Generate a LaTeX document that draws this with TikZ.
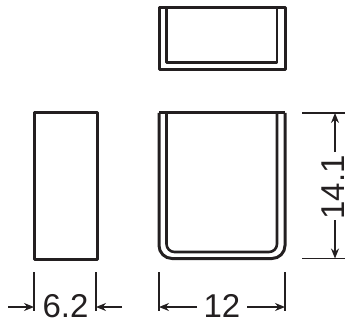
\documentclass[tikz,border=0pt]{standalone}
\usepackage{fontspec}
\setmainfont{Liberation Sans}
\usepackage{xcolor}
\usetikzlibrary{arrows.meta}
\definecolor{ink}{HTML}{231F20}
\begin{document}
\begin{tikzpicture}[x=1pt,y=-1pt,
    outline/.style={draw=ink,line width=3pt,line join=round},
    innerline/.style={draw=ink,line width=2.6pt,line join=round},
    dimline/.style={draw=ink,line width=1.4pt},
    dimarrow/.style={dimline,-{Stealth[length=10pt,width=8pt]}},
    dimtext/.style={text=ink,inner sep=0pt,font=\fontsize{33}{33}\selectfont}]
  \useasboundingbox (0,0) rectangle (345,326);
  % top view
  \draw[outline] (159,7.5) rectangle (285,70);
  \draw[innerline] (166.5,7.5) -- (166.5,62.5) -- (277,62.5) -- (277,7.5);
  % side view
  \draw[outline] (34,113) rectangle (97,259);
  % front view
  \draw[outline,rounded corners=13pt] (159,113) -- (159,258.5) -- (285,258.5) -- (285,113);
  \draw[outline] (159,113) -- (285,113);
  \draw[innerline,rounded corners=8pt] (166.5,113) -- (166.5,252) -- (277,252) -- (277,113);
  % dimensions
  \coordinate (wa) at (34,272);
  \coordinate (wb) at (34,311);
  \coordinate (wc) at (96,272);
  \coordinate (wd) at (96,311);
  \coordinate (we) at (8,307);
  \coordinate (wf) at (34,307);
  \coordinate (wg) at (122,307);
  \coordinate (wh) at (96,307);
  \coordinate (la) at (159,272);
  \coordinate (lb) at (159,311);
  \coordinate (lc) at (285,272);
  \coordinate (ld) at (285,311);
  \coordinate (le) at (197,307);
  \coordinate (lf) at (159,307);
  \coordinate (lg) at (247,307);
  \coordinate (lh) at (285,307);
  \coordinate (ha) at (302,113);
  \coordinate (hb) at (345,113);
  \coordinate (hc) at (302,258.5);
  \coordinate (hd) at (345,258.5);
  \coordinate (he) at (335,152);
  \coordinate (hf) at (335,113);
  \coordinate (hg) at (335,220);
  \coordinate (hh) at (335,258.5);
  \node[dimtext] (wtext) at (65.5,306) {6.2};
  \node[dimtext] (ltext) at (222,306) {12};
  \node[dimtext,rotate=90,anchor=base] (htext) at (344,187.5) {14.1};
  \draw[dimline] (wa) -- (wb);
  \draw[dimline] (wc) -- (wd);
  \draw[dimline] (la) -- (lb);
  \draw[dimline] (lc) -- (ld);
  \draw[dimline] (ha) -- (hb);
  \draw[dimline] (hc) -- (hd);
  \draw[dimarrow] (we) -- (wf);
  \draw[dimarrow] (wg) -- (wh);
  \draw[dimarrow] (le) -- (lf);
  \draw[dimarrow] (lg) -- (lh);
  \draw[dimarrow] (he) -- (hf);
  \draw[dimarrow] (hg) -- (hh);
\end{tikzpicture}
\end{document}
